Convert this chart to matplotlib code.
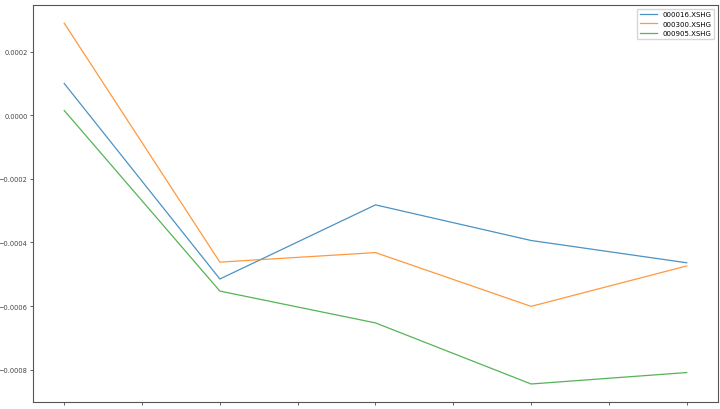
import matplotlib
matplotlib.use("Agg")
import matplotlib.pyplot as plt

x = [0, 1, 2, 3, 4]
s_000016 = [0.0000994, -0.000515, -0.000282, -0.000394, -0.000464]
s_000300 = [0.000289, -0.000462, -0.000432, -0.000601, -0.000474]
s_000905 = [0.0000145, -0.000553, -0.000653, -0.000845, -0.000809]
names = ['000016.XSHG', '000300.XSHG', '000905.XSHG']

fig = plt.figure(figsize=(7.2, 4.1), dpi=100)
ax = fig.add_axes([0.046, 0.017, 0.951, 0.968])

for ys, name in zip([s_000016, s_000300, s_000905], names):
    ax.plot(x, ys, label=name, linewidth=0.9, alpha=0.8)

ax.set_xticks([0, 0.5, 1, 1.5, 2, 2.5, 3, 3.5, 4])
ax.set_xticklabels([])
ax.set_yticks([0.0002, 0.0, -0.0002, -0.0004, -0.0006, -0.0008])
ax.tick_params(labelsize=4.8, length=2.5, pad=1.5, width=0.6, colors='#444444')
for sp in ax.spines.values():
    sp.set_color('#555555')
    sp.set_linewidth(0.8)

ax.legend(fontsize=5, loc='upper right', handlelength=2.5)

fig.savefig('out.png', dpi=100)
